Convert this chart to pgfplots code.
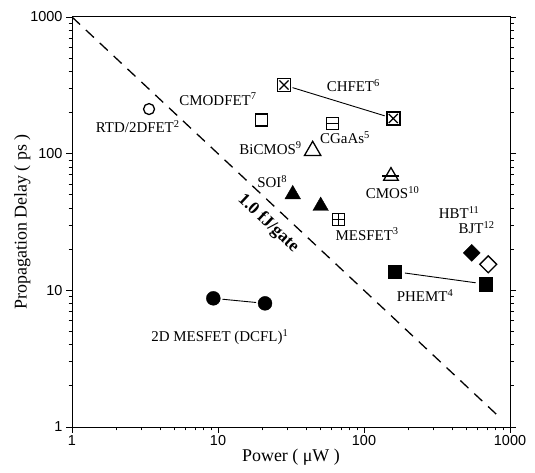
\documentclass[border=0pt]{standalone}
\usepackage{fontspec}
\setmainfont{Liberation Serif}
\newfontfamily\tickfont{Liberation Sans}
\usepackage{pgfplots}
\pgfplotsset{compat=1.18}
\begin{document}
\begin{tikzpicture}
\begin{axis}[
  scale only axis, width=438bp, height=410bp,
  xmode=log, ymode=log, xmin=1, xmax=1000, ymin=1, ymax=1000,
  xtick={1,10,100,1000}, xticklabels={1,10,100,1000},
  ytick={1,10,100,1000}, yticklabels={1,10,100,1000},
  minor xtick={2,3,4,5,6,7,8,9,20,30,40,50,60,70,80,90,200,300,400,500,600,700,800,900},
  minor ytick={2,3,4,5,6,7,8,9,20,30,40,50,60,70,80,90,200,300,400,500,600,700,800,900},
  tick align=outside, xtick pos=bottom, ytick pos=both, yticklabel pos=left,
  major tick length=6bp, minor tick length=3.5bp,
  tick style={black, line width=0.8pt},
  axis line style={black, line width=1pt},
  /pgf/number format/assume math mode=true,
  tick label style={font=\tickfont\fontsize{14.5}{14.5}\selectfont},
  xticklabel style={yshift=1bp},
  label style={font=\fontsize{18}{18}\selectfont},
  xlabel={Power ( μW )}, ylabel={Propagation Delay ( ps )},
  xlabel style={yshift=4bp},
  ylabel style={yshift=-7bp},
  clip=false,
]
% 1 fJ/gate line
\addplot[black, line width=1.3pt, dash pattern=on 11bp off 8bp] coordinates {(1,1000) (811,1.233)};
% connecting lines
\addplot[black, line width=0.9pt, shorten <=9bp, shorten >=9bp] coordinates {(28.3,318) (158.7,181)};
\addplot[black, line width=0.9pt, shorten <=10bp, shorten >=10bp] coordinates {(163,13.7) (681,11.1)};
\addplot[black, line width=0.9pt, shorten <=9bp, shorten >=9bp] coordinates {(9.29,8.74) (21,8.03)};
% RTD/2DFET
\addplot[black, only marks, mark=o, mark size=5.5pt, line width=1.3pt] coordinates {(3.37,212)};
% CMODFET
\addplot[black, only marks, mark=square, mark size=6pt, line width=1.3pt] coordinates {(19.9,176)};
% CHFET
\addplot[black, only marks, mark=square, mark size=6.5pt, line width=1.6pt] coordinates {(28.3,318) (158.7,181)};
\addplot[black, only marks, mark=x, mark size=6.5pt, line width=1.2pt] coordinates {(28.3,318) (158.7,181)};
% CGaAs
\addplot[black, only marks, mark=square, mark size=6pt, line width=1.3pt] coordinates {(61,167)};
\addplot[black, only marks, mark=-, mark size=6pt, line width=1.2pt] coordinates {(61,167)};
% MESFET
\addplot[black, only marks, mark=square, mark size=6pt, line width=1.3pt] coordinates {(66.7,33.1)};
\addplot[black, only marks, mark=+, mark size=6pt, line width=1.2pt] coordinates {(66.7,33.1)};
% BiCMOS
\addplot[black, only marks, mark=triangle, mark size=9.5pt, line width=1.3pt] coordinates {(44.5,105)};
% CMOS
\addplot[black, only marks, mark=triangle, mark size=8.5pt, line width=1.3pt] coordinates {(153,68.6)};
\addplot[black, only marks, mark=-, mark size=8.5pt, line width=1.2pt] coordinates {(153,68.6)};
% SOI
\addplot[black, fill=black, only marks, mark=triangle*, mark size=9pt] coordinates {(32.5,50.4) (50.5,41.4)};
% HBT, BJT
\addplot[black, fill=black, only marks, mark=square*, mark size=6pt, mark options={rotate=45}] coordinates {(547,18.8)};
\addplot[black, only marks, mark=square, mark size=6pt, line width=1.3pt, mark options={rotate=45}] coordinates {(710,15.5)};
% PHEMT
\addplot[black, fill=black, only marks, mark=square*, mark size=6.7pt] coordinates {(163,13.7) (681,11.1)};
% 2D MESFET
\addplot[black, fill=black, only marks, mark=*, mark size=7pt] coordinates {(9.29,8.74) (21,8.03)};

\begin{scope}[every node/.style={font=\fontsize{15}{15}\selectfont, inner sep=0pt}]
\node at (axis cs:10.0,251) {CMODFET\textsuperscript{7}};
\node at (axis cs:2.82,157) {RTD/2DFET\textsuperscript{2}};
\node[anchor=east] at (axis cs:37.5,110) {BiCMOS\textsuperscript{9}};
\node at (axis cs:84.5,314) {CHFET\textsuperscript{6}};
\node at (axis cs:74.1,131) {CGaAs\textsuperscript{5}};
\node at (axis cs:23.5,62.5) {SOI\textsuperscript{8}};
\node at (axis cs:157,52) {CMOS\textsuperscript{10}};
\node at (axis cs:105,25.8) {MESFET\textsuperscript{3}};
\node at (axis cs:448,37) {HBT\textsuperscript{11}};
\node at (axis cs:590,28.8) {BJT\textsuperscript{12}};
\node at (axis cs:262,9.1) {PHEMT\textsuperscript{4}};
\node at (axis cs:10.3,4.55) {2D MESFET (DCFL)\textsuperscript{1}};
\node[font=\bfseries\fontsize{17.5}{17.5}\selectfont, rotate=-43] at (axis cs:22.1,30.9) {1.0 fJ/gate};
\end{scope}
\coordinate (SW) at (rel axis cs:0,0);
\coordinate (NE) at (rel axis cs:1,1);
\end{axis}
\pgfresetboundingbox
\path[use as bounding box] ([shift={(-72bp,-45bp)}]SW) rectangle ([shift={(25bp,17bp)}]NE);
\end{tikzpicture}
\end{document}
